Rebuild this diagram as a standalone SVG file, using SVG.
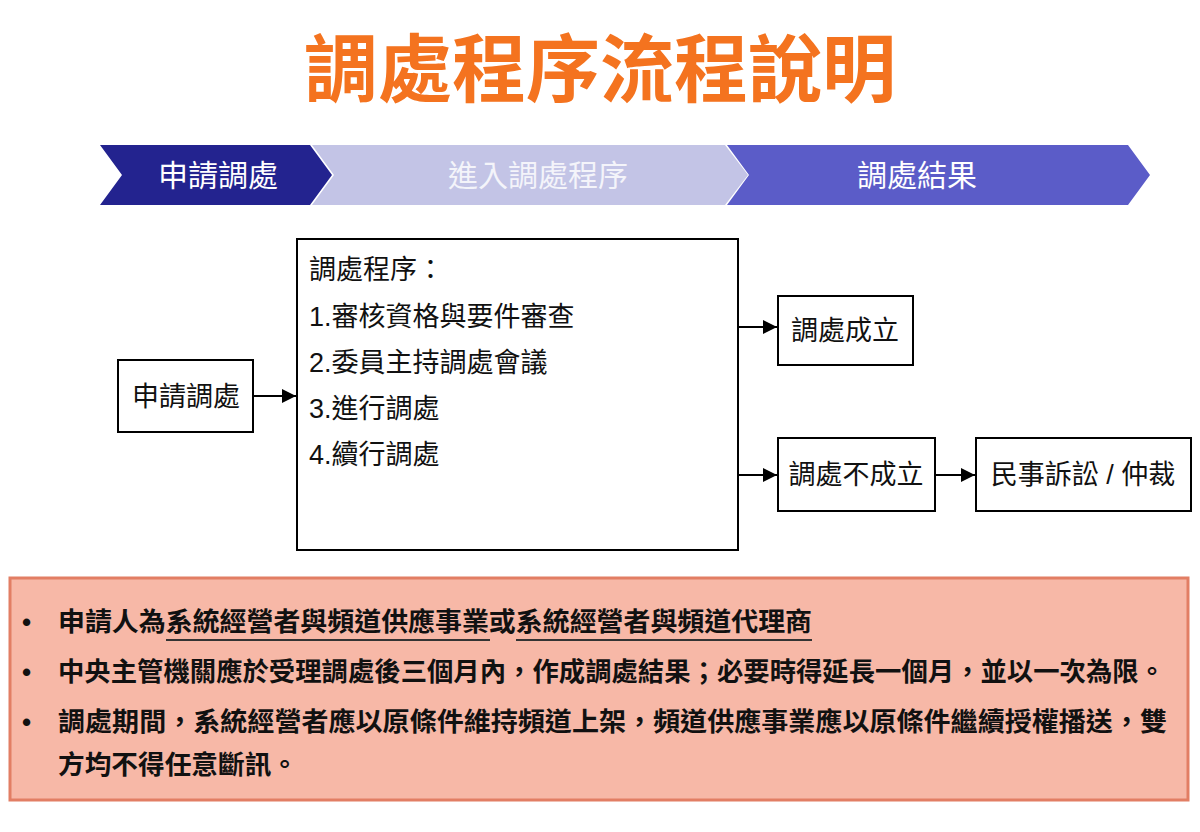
<svg xmlns="http://www.w3.org/2000/svg" width="1200" height="832" viewBox="0 0 1200 832">
<defs>
<marker id="ah" viewBox="0 0 10 10" refX="10" refY="5" markerWidth="7" markerHeight="7" orient="auto"><path d="M0,0 L10,5 L0,10 z" fill="#000"/></marker>
<style>
.t{font-family:"Liberation Sans","Noto Sans CJK TC",sans-serif}
.box{fill:#fff;stroke:#000;stroke-width:2}
.bl{font-size:27px;fill:#111}
.ch{font-size:30px}
.note{font-size:26px;font-weight:bold;fill:#111}
.cn{stroke:#000;stroke-width:2;marker-end:url(#ah)}
</style>
</defs>
<rect width="1200" height="832" fill="#fff"/>
<text class="t" x="600" y="96" text-anchor="middle" font-size="74" font-weight="bold" fill="#F4731F">調處程序流程說明</text>
<g id="stage1"><polygon points="100,145 310,145 332,175 310,205 100,205 122,175" fill="#23238F"/><text class="t ch" x="218" y="186" text-anchor="middle" fill="#fff">申請調處</text></g>
<g id="stage2"><polygon points="312,145 725,145 748,175 725,205 312,205 334,175" fill="#C3C4E6"/><text class="t ch" x="538" y="186" text-anchor="middle" fill="#F4F4FA">進入調處程序</text></g>
<g id="stage3"><polygon points="727,145 1128,145 1150,175 1128,205 727,205 749,175" fill="#5B5CC8"/><text class="t ch" x="917" y="186" text-anchor="middle" fill="#fff">調處結果</text></g>
<g id="apply"><rect class="box" x="118" y="360" width="135" height="72"/><text class="t bl" x="186" y="406" text-anchor="middle">申請調處</text></g>
<g id="proc"><rect class="box" x="297" y="239" width="441" height="311"/>
<text class="t bl" x="309" y="279">調處程序：</text>
<text class="t bl" x="309" y="326">1.審核資格與要件審查</text>
<text class="t bl" x="309" y="372">2.委員主持調處會議</text>
<text class="t bl" x="309" y="418">3.進行調處</text>
<text class="t bl" x="309" y="464">4.續行調處</text></g>
<g id="ok"><rect class="box" x="778" y="296" width="135" height="69"/><text class="t bl" x="845" y="340" text-anchor="middle">調處成立</text></g>
<g id="fail"><rect class="box" x="778" y="438" width="157" height="73"/><text class="t bl" x="856" y="484" text-anchor="middle">調處不成立</text></g>
<g id="civil"><rect class="box" x="976" y="438" width="215" height="73"/><text class="t bl" x="1083" y="484" text-anchor="middle">民事訴訟 / 仲裁</text></g>
<g id="connectors">
<line class="cn" x1="253" y1="396" x2="296" y2="396"/>
<line class="cn" x1="738" y1="327" x2="777" y2="327"/>
<line class="cn" x1="738" y1="475" x2="777" y2="475"/>
<line class="cn" x1="935" y1="475" x2="975" y2="475"/>
</g>
<g id="notes">
<rect x="10" y="578" width="1178" height="222" fill="#F7B8A7" stroke="#E27E64" stroke-width="3"/>
<g class="t note">
<text x="22" y="631">•</text><text x="58" y="631" textLength="754" lengthAdjust="spacingAndGlyphs">申請人為系統經營者與頻道供應事業或系統經營者與頻道代理商</text>
<text x="22" y="681">•</text><text x="58" y="681" textLength="1107" lengthAdjust="spacingAndGlyphs">中央主管機關應於受理調處後三個月內，作成調處結果；必要時得延長一個月，並以一次為限。</text>
<text x="22" y="731">•</text><text x="58" y="731" textLength="1109" lengthAdjust="spacingAndGlyphs">調處期間，系統經營者應以原條件維持頻道上架，頻道供應事業應以原條件繼續授權播送，雙</text>
<text x="58" y="774" textLength="240" lengthAdjust="spacingAndGlyphs">方均不得任意斷訊。</text>
</g>
<line x1="166" y1="640" x2="490" y2="640" stroke="#333" stroke-width="2"/>
<line x1="516" y1="640" x2="812" y2="640" stroke="#333" stroke-width="2"/>
</g>
</svg>
